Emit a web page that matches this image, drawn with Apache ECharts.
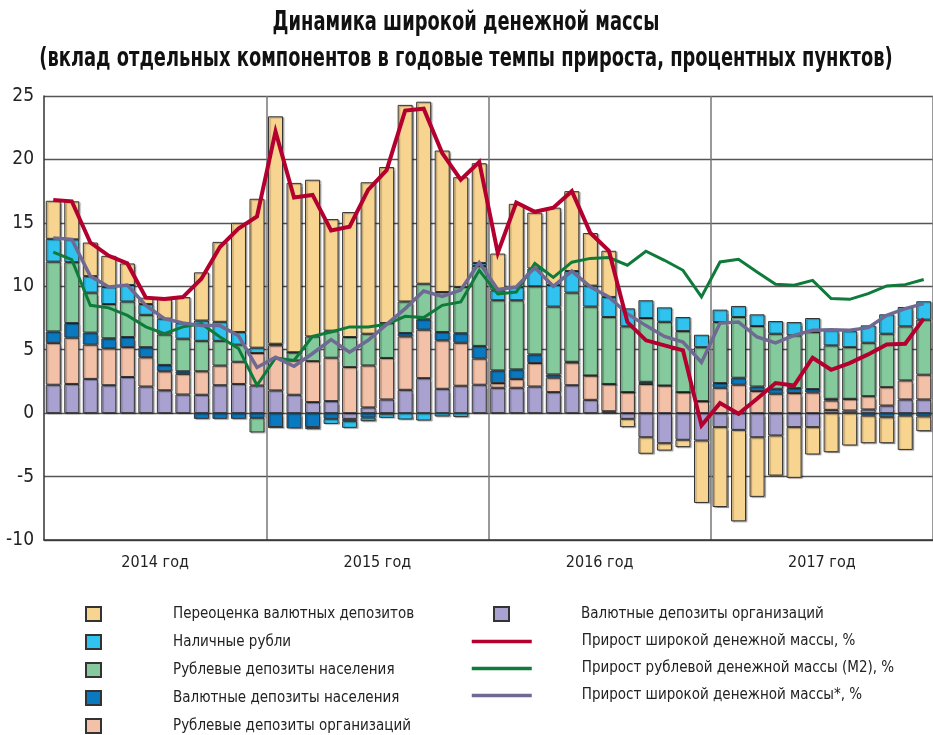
<!DOCTYPE html>
<html>
<head>
<meta charset="utf-8">
<script src="https://cdn.jsdelivr.net/npm/echarts@6/dist/echarts.min.js"></script>
<style>
html,body{margin:0;padding:0;background:#fff;}
#c{width:933px;height:735px;}
</style>
</head>
<body>
<div id="c"></div>
<script>
// ---- categories ----
const years = ['2014 год', '2015 год', '2016 год', '2017 год'];
const months = [];
for (const y of [2014, 2015, 2016, 2017]) {
  for (let m = 1; m <= 12; m++) months.push((m < 10 ? '0' : '') + m + '.' + y);
}
const yTicks = [-10, -5, 0, 5, 10, 15, 20, 25];
const titleLines = ['Динамика широкой денежной массы',
  '(вклад отдельных компонентов в годовые темпы прироста, процентных пунктов)'];

// ---- bar components (percentage points) ----
const valOrg = [2.24,2.3,2.7,2.2,2.85,2.1,1.8,1.47,1.45,2.2,2.3,2.18,
  1.79,1.45,0.87,0.95,-0.45,0.45,1.08,1.84,2.76,1.92,2.16,2.24,
  2.0,2.0,2.1,1.66,2.2,1.05,0.15,-0.45,-1.9,-2.37,-2.1,-2.16,
  -1.1,-1.32,-1.9,-1.76,-1.1,-1.1,0.26,0.21,0.29,0.6,1.08,1.08];
const rubOrg = [3.3,3.65,2.7,2.9,2.35,2.3,1.5,1.63,1.85,1.55,1.75,2.56,
  3.56,2.7,3.23,3.42,3.63,3.31,3.27,4.21,3.82,3.82,3.39,2.06,
  0.37,0.7,1.85,1.14,1.8,1.92,2.15,1.66,2.3,2.18,1.66,0.95,
  2.0,2.24,1.74,1.53,1.58,1.63,0.74,0.92,1.05,1.45,1.5,1.95];
const valHH = [0.9,1.15,0.95,0.8,0.8,0.8,0.5,0.2,-0.45,-0.45,-0.45,-0.37,
  -1.1,-1.2,-1.1,-0.45,-0.18,-0.35,-0.05,0.27,0.82,0.66,0.75,1.0,
  1.0,0.75,0.68,0.25,0.05,0,0,0,0.17,0,0,0,
  0.37,0.55,0.36,0.39,0.39,0.27,0.13,0,-0.2,-0.32,-0.2,-0.26];
const rubHH = [5.5,4.8,3.15,2.7,2.8,2.55,2.4,2.57,2.4,1.95,1.35,-1.15,
  0,0.65,1.95,2.13,2.37,2.5,2.75,2.48,2.8,3.15,3.65,6.3,
  5.53,5.45,5.37,5.35,5.45,5.43,5.28,5.18,5.03,5.02,4.81,4.25,
  4.81,4.79,4.77,4.34,4.16,4.5,4.21,4.07,4.21,4.21,4.26,4.34];
const cash = [1.8,1.8,1.3,1.35,1.3,0.85,1.25,1.23,1.6,1.5,1.0,0.42,
  0.12,0,-0.16,-0.4,-0.53,-0.28,-0.32,-0.5,-0.58,-0.26,-0.3,0.24,
  0.78,1.05,1.4,1.7,1.7,1.65,1.58,1.42,1.4,1.14,1.11,0.98,
  0.98,0.87,0.92,1.0,1.05,1.1,1.19,1.27,1.37,1.53,1.53,1.45];
const reval = [3.0,3.0,2.65,2.45,1.7,0.5,1.55,2.05,3.8,6.3,8.6,11.74,
  17.93,13.35,12.35,8.8,9.85,11.94,12.3,15.5,14.35,11.15,8.65,7.86,
  2.9,6.55,4.4,6.1,6.3,4.15,3.64,-0.65,-1.3,-0.58,-0.58,-4.92,
  -6.3,-7.21,-4.7,-3.16,-4.0,-2.16,-3.08,-2.55,-2.17,-2.05,-2.7,-1.16];

// ---- lines (%) ----
const broadGrowth = [16.8,16.7,13.45,12.4,11.8,9.1,9.0,9.15,10.6,13.1,14.55,15.5,
  22.2,17.0,17.2,14.4,14.7,17.6,19.15,23.85,24.0,20.5,18.4,19.8,
  12.63,16.6,15.87,16.2,17.5,14.2,12.8,7.18,5.74,5.34,4.95,-0.97,
  0.79,-0.05,1.13,2.37,2.18,4.37,3.42,3.95,4.63,5.42,5.47,7.45];
const m2Growth = [12.7,12.1,8.5,8.3,7.7,6.8,6.26,6.8,7.05,6.0,5.1,2.2,
  4.35,4.15,6.05,6.4,6.8,6.8,7.0,7.63,7.53,8.5,8.76,11.26,
  9.4,9.55,11.8,10.7,11.9,12.2,12.26,11.66,12.76,12.05,11.26,9.16,
  11.92,12.13,11.13,10.16,10.08,10.47,9.03,8.97,9.42,10.03,10.13,10.53];
const broadAdjGrowth = [13.8,13.7,10.8,9.95,10.1,8.5,7.45,7.1,6.9,6.9,6.1,3.6,
  4.4,3.7,4.7,5.8,4.8,5.74,7.0,8.24,9.63,9.2,9.7,11.87,
  9.74,9.95,11.47,10.0,11.2,9.95,9.16,7.84,6.9,6.05,5.6,4.0,
  7.1,7.18,6.0,5.53,6.13,6.53,6.58,6.53,6.74,7.71,8.24,8.63];

const names = {
  reval: 'Переоценка валютных депозитов',
  cash: 'Наличные рубли',
  rubHH: 'Рублевые депозиты населения',
  valHH: 'Валютные депозиты населения',
  rubOrg: 'Рублевые депозиты организаций',
  valOrg: 'Валютные депозиты организаций',
  broad: 'Прирост широкой денежной массы, %',
  m2: 'Прирост рублевой денежной массы (М2), %',
  adj: 'Прирост широкой денежной массы*, %'
};

const F = "'Liberation Sans Narrow','DejaVu Sans Condensed','Arial Narrow',sans-serif";
const chart = echarts.init(document.getElementById('c'), null, {renderer: 'canvas'});

function bar(name, data, color) {
  return {
    name, type: 'bar', stack: 'total', data, barWidth: 15,
    xAxisIndex: 0,
    itemStyle: {color, borderColor: '#333', borderWidth: 1,
      shadowColor: 'rgba(0,0,0,0.3)', shadowOffsetX: 1.5, shadowOffsetY: 1, shadowBlur: 1},
    emphasis: {disabled: true}
  };
}
function line(name, data, color, width, z) {
  return {
    name, type: 'line', data, symbol: 'none', z,
    xAxisIndex: 0,
    lineStyle: {color, width, join: 'miter'},
    itemStyle: {color},
    emphasis: {disabled: true}
  };
}
function legendFmt(pad) {
  return {
    formatter: '{t|{name}}',
    textStyle: {rich: {t: {fontFamily: F, fontSize: 15, color: '#222', padding: [0, 0, 0, pad], lineHeight: 20}}}
  };
}

chart.setOption({
  animation: false,
  graphic: titleLines.map((t, i) => ({
    type: 'text', x: 466, y: 23 + i * 36, scaleX: 0.765, silent: true,
    style: {text: t, fontFamily: F, fontSize: 26, fontWeight: 'bold', fill: '#111',
      textAlign: 'center', textVerticalAlign: 'middle'}
  })),
  grid: {left: 44, right: 0, top: 96, bottom: 195, containLabel: false},
  legend: [
    Object.assign({
      data: [names.reval, names.cash, names.rubHH, names.valHH, names.rubOrg].map(n => ({name: n, icon: 'rect'})),
      orient: 'vertical', left: 85, top: 606, padding: 0,
      itemWidth: 15, itemHeight: 14, itemGap: 12, selectedMode: false
    }, legendFmt(67)),
    Object.assign({
      data: [{name: names.valOrg, icon: 'rect'}],
      orient: 'vertical', left: 493, top: 606, padding: 0,
      itemWidth: 15, itemHeight: 14, itemGap: 12, selectedMode: false
    }, legendFmt(67)),
    Object.assign({
      data: [names.broad, names.m2, names.adj],
      orient: 'vertical', left: 470, top: 634, padding: 0,
      itemWidth: 60, itemHeight: 14, itemGap: 12, selectedMode: false,
      lineStyle: {width: 3.5},
      itemStyle: {color: 'rgba(0,0,0,0)', borderWidth: 0, opacity: 0}
    }, legendFmt(45))
  ],
  xAxis: [
    {
      type: 'category', data: months, boundaryGap: true,
      axisLine: {onZero: false, lineStyle: {color: '#333', width: 1.5}},
      axisTick: {show: false}, axisLabel: {show: false}, splitLine: {show: false}
    },
    {
      type: 'category', data: years, boundaryGap: true, position: 'bottom',
      axisLine: {show: false}, axisTick: {show: false},
      axisLabel: {fontFamily: F, fontSize: 16, color: '#222', margin: 15},
      splitLine: {show: true, interval: function (i) { return i > 0 && i < years.length; },
        lineStyle: {color: '#777', width: 1.5}}
    }
  ],
  yAxis: {
    type: 'value', min: yTicks[0], max: yTicks[yTicks.length - 1], interval: 5,
    axisLine: {show: true, lineStyle: {color: '#333', width: 1.5}},
    axisTick: {show: false},
    axisLabel: {fontFamily: F, fontSize: 19, color: '#222', margin: 10},
    splitLine: {lineStyle: {color: '#555', width: 1.3}}
  },
  series: [
    bar(names.valOrg, valOrg, '#A9A2D0'),
    bar(names.rubOrg, rubOrg, '#F2C1A7'),
    bar(names.valHH, valHH, '#0B79BF'),
    bar(names.rubHH, rubHH, '#84CA9C'),
    bar(names.cash, cash, '#30C3F0'),
    bar(names.reval, reval, '#F8D491'),
    line(names.m2, m2Growth, '#0E7B3A', 3, 5),
    line(names.adj, broadAdjGrowth, '#6F6A93', 3.5, 6),
    line(names.broad, broadGrowth, '#B3002F', 4, 7)
  ]
});
</script>
</body>
</html>
